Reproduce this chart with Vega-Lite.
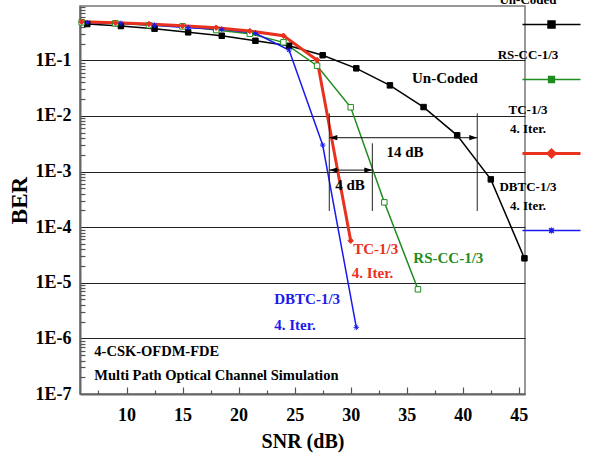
{
  "$schema": "https://vega.github.io/schema/vega-lite/v6.json",
  "width": 445,
  "height": 388,
  "autosize": {"type": "none"},
  "padding": {"left": 80, "top": 6, "right": 84, "bottom": 65},
  "background": "white",
  "config": {
    "view": {"stroke": "#777777", "strokeWidth": 1.5},
    "font": "Liberation Serif",
    "axis": {
      "labelFont": "Liberation Serif",
      "labelFontWeight": "bold",
      "labelColor": "black",
      "titleFont": "Liberation Serif",
      "titleFontWeight": "bold",
      "titleColor": "black",
      "domainColor": "#666666",
      "domainWidth": 2,
      "tickColor": "#555555",
      "tickWidth": 1.2,
      "labelFlush": false,
      "labelOverlap": false
    }
  },
  "datasets": {
    "curves": [
      {"series": "Un-Coded", "snr": 6.5, "ber": 0.448},
      {"series": "Un-Coded", "snr": 9.5, "ber": 0.412},
      {"series": "Un-Coded", "snr": 12.5, "ber": 0.369},
      {"series": "Un-Coded", "snr": 15.5, "ber": 0.318},
      {"series": "Un-Coded", "snr": 18.5, "ber": 0.276},
      {"series": "Un-Coded", "snr": 21.5, "ber": 0.224},
      {"series": "Un-Coded", "snr": 24.5, "ber": 0.182},
      {"series": "Un-Coded", "snr": 27.5, "ber": 0.123},
      {"series": "Un-Coded", "snr": 30.5, "ber": 0.0716},
      {"series": "Un-Coded", "snr": 33.5, "ber": 0.0354},
      {"series": "Un-Coded", "snr": 36.5, "ber": 0.0144},
      {"series": "Un-Coded", "snr": 39.5, "ber": 0.00447},
      {"series": "Un-Coded", "snr": 42.5, "ber": 0.000722},
      {"series": "Un-Coded", "snr": 45.5, "ber": 0.0000275},
      {"series": "RS-CC-1/3", "snr": 6, "ber": 0.481},
      {"series": "RS-CC-1/3", "snr": 9, "ber": 0.461},
      {"series": "RS-CC-1/3", "snr": 12, "ber": 0.425},
      {"series": "RS-CC-1/3", "snr": 15, "ber": 0.407},
      {"series": "RS-CC-1/3", "snr": 18, "ber": 0.349},
      {"series": "RS-CC-1/3", "snr": 21, "ber": 0.300},
      {"series": "RS-CC-1/3", "snr": 24, "ber": 0.210},
      {"series": "RS-CC-1/3", "snr": 27, "ber": 0.0798},
      {"series": "RS-CC-1/3", "snr": 30, "ber": 0.01426},
      {"series": "RS-CC-1/3", "snr": 33, "ber": 0.000279},
      {"series": "RS-CC-1/3", "snr": 36, "ber": 0.00000762},
      {"series": "TC-1/3", "snr": 6, "ber": 0.493},
      {"series": "TC-1/3", "snr": 9, "ber": 0.473},
      {"series": "TC-1/3", "snr": 12, "ber": 0.448},
      {"series": "TC-1/3", "snr": 15, "ber": 0.418},
      {"series": "TC-1/3", "snr": 18, "ber": 0.385},
      {"series": "TC-1/3", "snr": 21, "ber": 0.335},
      {"series": "TC-1/3", "snr": 24, "ber": 0.276},
      {"series": "TC-1/3", "snr": 27, "ber": 0.101},
      {"series": "TC-1/3", "snr": 30, "ber": 0.000057},
      {"series": "DBTC-1/3", "snr": 6.5, "ber": 0.473},
      {"series": "DBTC-1/3", "snr": 9.5, "ber": 0.461},
      {"series": "DBTC-1/3", "snr": 12.5, "ber": 0.425},
      {"series": "DBTC-1/3", "snr": 15.5, "ber": 0.385},
      {"series": "DBTC-1/3", "snr": 18.5, "ber": 0.360},
      {"series": "DBTC-1/3", "snr": 21.5, "ber": 0.305},
      {"series": "DBTC-1/3", "snr": 24.5, "ber": 0.153},
      {"series": "DBTC-1/3", "snr": 27.5, "ber": 0.00299},
      {"series": "DBTC-1/3", "snr": 30.5, "ber": 0.00000158}
    ],
    "vlines": [
      {"snr": 28.09, "top": 0.0111, "bottom": 0.000195},
      {"snr": 31.93, "top": 0.00321, "bottom": 0.000195},
      {"snr": 41.29, "top": 0.0111, "bottom": 0.000195}
    ],
    "arrows": [
      {"from": 28.09, "to": 41.29, "ber": 0.00405},
      {"from": 28.09, "to": 31.93, "ber": 0.00106}
    ],
    "heads": [
      {"snr": 28.09, "ber": 0.00405, "dir": "left"},
      {"snr": 41.29, "ber": 0.00405, "dir": "right"},
      {"snr": 28.09, "ber": 0.00106, "dir": "left"},
      {"snr": 31.93, "ber": 0.00106, "dir": "right"}
    ],
    "serieslabels": [
      {"series": "Un-Coded", "snr": 35.47, "ber": 0.0479, "text": "Un-Coded"},
      {"series": "RS-CC-1/3", "snr": 35.59, "ber": 0.0000275, "text": "RS-CC-1/3"},
      {"series": "TC-1/3", "snr": 30.23, "ber": 0.0000405, "text": "TC-1/3"},
      {"series": "TC-1/3", "snr": 30.09, "ber": 0.0000151, "text": "4. Iter."},
      {"series": "DBTC-1/3", "snr": 23.18, "ber": 0.0000051, "text": "DBTC-1/3"},
      {"series": "DBTC-1/3", "snr": 23.18, "ber": 0.00000174, "text": "4. Iter."}
    ],
    "notes": [
      {"snr": 7.13, "ber": 0.000000575, "text": "4-CSK-OFDM-FDE"},
      {"snr": 7.13, "ber": 0.000000211, "text": "Multi Path Optical Channel Simulation"}
    ],
    "gaps": [
      {"snr": 34.84, "ber": 0.00227, "text": "14 dB"},
      {"snr": 29.94, "ber": 0.000571, "text": "4 dB"}
    ]
  },
  "resolve": {
    "axis": {"x": "independent", "y": "independent"},
    "scale": {"shape": "independent"}
  },
  "layer": [
    {
      "data": {"name": "curves"},
      "transform": [{"filter": "datum.series != 'TC-1/3'"}],
      "mark": {"type": "line", "strokeWidth": 1.5},
      "encoding": {
        "x": {
          "field": "snr", "type": "quantitative",
          "scale": {"domain": [5.85, 45.55], "nice": false, "zero": false},
          "axis": {
            "orient": "bottom",
            "values": [10, 15, 20, 25, 30, 35, 40, 45],
            "title": "SNR (dB)",
            "titleFontSize": 20,
            "titlePadding": 7,
            "labelFontSize": 18,
            "labelPadding": 19,
            "tickSize": -7,
            "grid": false
          }
        },
        "y": {
          "field": "ber", "type": "quantitative",
          "scale": {"type": "log", "domain": [0.0000001, 0.945], "nice": false},
          "axis": {
            "orient": "left",
            "values": [0.0000001, 0.000001, 0.00001, 0.0001, 0.001, 0.01, 0.1],
            "labelExpr": "'1E' + round(log(datum.value) / LN10)",
            "title": "BER",
            "titleFontSize": 23,
            "titlePadding": 4,
            "labelFontSize": 18,
            "labelPadding": 9,
            "ticks": false,
            "grid": true,
            "gridColor": "#222222",
            "gridWidth": 1.2
          }
        },
        "color": {
          "field": "series", "type": "nominal",
          "scale": {"domain": ["Un-Coded", "RS-CC-1/3", "TC-1/3", "DBTC-1/3"], "range": ["#000000", "#1e8c1e", "#e8321e", "#1a1aee"]},
          "legend": {
            "orient": "none",
            "legendX": 465,
            "legendY": 12,
            "title": null,
            "padding": 0,
            "labelFont": "Liberation Serif",
            "labelFontSize": 13,
            "labelFontWeight": "bold",
            "labelColor": "black",
            "labelAlign": "center",
            "labelBaseline": "bottom",
            "labelOffset": 0,
            "labelLimit": 200,
            "rowPadding": 17,
            "symbolSize": 3364,
            "symbolStrokeWidth": 1.5,
            "symbolType": "stroke",
            "labelExpr": "datum.label == 'TC-1/3' || datum.label == 'DBTC-1/3' ? [datum.label, '4. Iter.'] : datum.label",
            "encoding": {
              "symbols": {
                "shape": {"value": {"expr": "datum.value == 'Un-Coded' ? 'M-1,0H1M-0.12,-0.12H0.12V0.12H-0.12Z' : datum.value == 'RS-CC-1/3' ? 'M-1,0H-0.1M0.1,0H1M-0.1,-0.1H0.1V0.1H-0.1Z' : datum.value == 'TC-1/3' ? 'M-1,0.655H1M0,0.535L0.12,0.655L0,0.775L-0.12,0.655Z' : 'M-1,0.655H1M0,0.555V0.755M-0.08,0.575L0.08,0.735M-0.08,0.735L0.08,0.575'"}},
                "fill": {"value": {"expr": "datum.value == 'Un-Coded' ? 'black' : datum.value == 'RS-CC-1/3' ? 'white' : datum.value == 'TC-1/3' ? '#e8321e' : 'transparent'"}},
                "strokeWidth": {"value": {"expr": "datum.value == 'TC-1/3' ? 3 : 1.5"}}
              },
              "labels": {
                "dx": {"value": -30},
                "dy": {"value": -18},
                "lineHeight": {"value": 19}
              }
            }
          }
        }
      }
    },
    {
      "data": {"name": "curves"},
      "transform": [{"filter": "datum.series == 'TC-1/3'"}],
      "mark": {"type": "line", "strokeWidth": 3},
      "encoding": {
        "x": {"field": "snr", "type": "quantitative", "scale": {"domain": [5.85, 45.55], "nice": false, "zero": false}, "axis": null},
        "y": {"field": "ber", "type": "quantitative", "scale": {"type": "log", "domain": [0.0000001, 0.945], "nice": false}, "axis": null},
        "color": {"field": "series", "type": "nominal", "legend": null}
      }
    },
    {
      "data": {"name": "curves"},
      "mark": {"type": "point", "size": 30, "strokeWidth": 1, "opacity": 1},
      "encoding": {
        "x": {
          "field": "snr", "type": "quantitative",
          "scale": {"domain": [5.85, 45.55], "nice": false, "zero": false},
          "axis": {
            "orient": "bottom",
            "values": [7.5, 12.5, 17.5, 22.5, 27.5, 32.5, 37.5, 42.5],
            "labels": false,
            "title": null,
            "domain": false,
            "grid": false,
            "tickSize": -4
          }
        },
        "y": {
          "field": "ber", "type": "quantitative",
          "scale": {"type": "log", "domain": [0.0000001, 0.945], "nice": false},
          "axis": {
            "orient": "left",
            "values": [2e-7, 3e-7, 4e-7, 5e-7, 6e-7, 7e-7, 8e-7, 9e-7, 2e-6, 3e-6, 4e-6, 5e-6, 6e-6, 7e-6, 8e-6, 9e-6, 2e-5, 3e-5, 4e-5, 5e-5, 6e-5, 7e-5, 8e-5, 9e-5, 2e-4, 3e-4, 4e-4, 5e-4, 6e-4, 7e-4, 8e-4, 9e-4, 0.002, 0.003, 0.004, 0.005, 0.006, 0.007, 0.008, 0.009, 0.02, 0.03, 0.04, 0.05, 0.06, 0.07, 0.08, 0.09, 0.2, 0.3, 0.4, 0.5, 0.6, 0.7, 0.8, 0.9],
            "labels": false,
            "title": null,
            "domain": false,
            "grid": false,
            "tickSize": -5
          }
        },
        "shape": {
          "field": "series", "type": "nominal",
          "scale": {"domain": ["Un-Coded", "RS-CC-1/3", "TC-1/3", "DBTC-1/3"], "range": ["square", "square", "diamond", "M-1,0L1,0M0,-1L0,1M-0.7,-0.7L0.7,0.7M-0.7,0.7L0.7,-0.7"]},
          "legend": null
        },
        "fill": {
          "field": "series", "type": "nominal",
          "scale": {"domain": ["Un-Coded", "RS-CC-1/3", "TC-1/3", "DBTC-1/3"], "range": ["#000000", "#ffffff", "#e8321e", "transparent"]},
          "legend": null
        },
        "stroke": {
          "field": "series", "type": "nominal",
          "scale": {"domain": ["Un-Coded", "RS-CC-1/3", "TC-1/3", "DBTC-1/3"], "range": ["#000000", "#1e8c1e", "#e8321e", "#1a1aee"]},
          "legend": null
        }
      }
    },
    {
      "data": {"name": "vlines"},
      "mark": {"type": "rule", "color": "#222222", "strokeWidth": 1},
      "encoding": {
        "x": {"field": "snr", "type": "quantitative", "scale": {"domain": [5.85, 45.55], "nice": false, "zero": false}, "axis": null},
        "y": {"field": "top", "type": "quantitative", "scale": {"type": "log", "domain": [0.0000001, 0.945], "nice": false}, "axis": null},
        "y2": {"field": "bottom"}
      }
    },
    {
      "data": {"name": "arrows"},
      "mark": {"type": "rule", "color": "#111111", "strokeWidth": 1},
      "encoding": {
        "x": {"field": "from", "type": "quantitative", "scale": {"domain": [5.85, 45.55], "nice": false, "zero": false}, "axis": null},
        "x2": {"field": "to"},
        "y": {"field": "ber", "type": "quantitative", "scale": {"type": "log", "domain": [0.0000001, 0.945], "nice": false}, "axis": null}
      }
    },
    {
      "data": {"name": "heads"},
      "mark": {"type": "point", "filled": true, "size": 64, "color": "#000000", "opacity": 1},
      "encoding": {
        "x": {"field": "snr", "type": "quantitative", "scale": {"domain": [5.85, 45.55], "nice": false, "zero": false}, "axis": null},
        "y": {"field": "ber", "type": "quantitative", "scale": {"type": "log", "domain": [0.0000001, 0.945], "nice": false}, "axis": null},
        "shape": {
          "field": "dir", "type": "nominal",
          "scale": {"domain": ["left", "right"], "range": ["M0,0L2,-0.65L2,0.65Z", "M0,0L-2,-0.65L-2,0.65Z"]},
          "legend": null
        }
      }
    },
    {
      "data": {"name": "serieslabels"},
      "mark": {"type": "text", "font": "Liberation Serif", "fontWeight": "bold", "fontSize": 15, "align": "left", "baseline": "middle"},
      "encoding": {
        "x": {"field": "snr", "type": "quantitative", "scale": {"domain": [5.85, 45.55], "nice": false, "zero": false}, "axis": null},
        "y": {"field": "ber", "type": "quantitative", "scale": {"type": "log", "domain": [0.0000001, 0.945], "nice": false}, "axis": null},
        "text": {"field": "text"},
        "color": {"field": "series", "type": "nominal", "legend": null}
      }
    },
    {
      "data": {"name": "notes"},
      "mark": {"type": "text", "font": "Liberation Serif", "fontWeight": "bold", "fontSize": 14.5, "align": "left", "baseline": "middle", "color": "#000000"},
      "encoding": {
        "x": {"field": "snr", "type": "quantitative", "scale": {"domain": [5.85, 45.55], "nice": false, "zero": false}, "axis": null},
        "y": {"field": "ber", "type": "quantitative", "scale": {"type": "log", "domain": [0.0000001, 0.945], "nice": false}, "axis": null},
        "text": {"field": "text"}
      }
    },
    {
      "data": {"name": "gaps"},
      "mark": {"type": "text", "font": "Liberation Serif", "fontWeight": "bold", "fontSize": 15, "align": "center", "baseline": "middle", "color": "#000000"},
      "encoding": {
        "x": {"field": "snr", "type": "quantitative", "scale": {"domain": [5.85, 45.55], "nice": false, "zero": false}, "axis": null},
        "y": {"field": "ber", "type": "quantitative", "scale": {"type": "log", "domain": [0.0000001, 0.945], "nice": false}, "axis": null},
        "text": {"field": "text"}
      }
    }
  ]
}
